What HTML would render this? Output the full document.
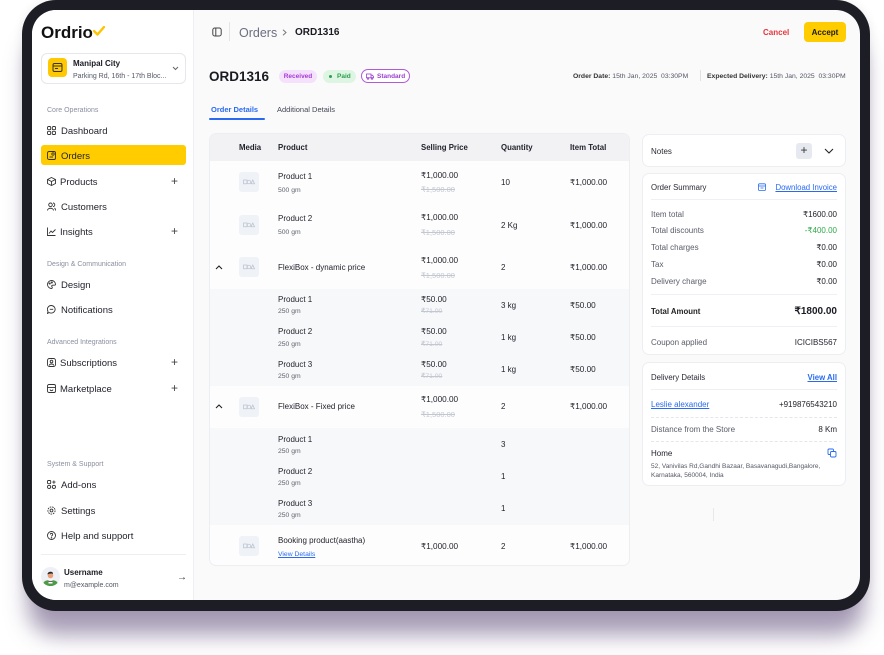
<!DOCTYPE html>
<html><head><meta charset="utf-8">
<style>
*{margin:0;padding:0;box-sizing:border-box}
html,body{width:884px;height:655px;background:#fff;overflow:hidden;font-family:"Liberation Sans",Arial,sans-serif;color:#1c1d24}
.frame{position:absolute;left:22px;top:0;width:848px;height:611px;background:#1d1d25;border-radius:34px;box-shadow:0 30px 22px -6px rgba(80,60,110,.5),0 0 10px rgba(0,0,0,.08)}
.screen{position:absolute;left:32px;top:10px;width:828px;height:590px;border-radius:24px;overflow:hidden;background:#fafafb}
.w{position:absolute;left:-32px;top:-10px;width:884px;height:655px}
.t{position:absolute;white-space:nowrap;line-height:1;margin-top:1px}
.abs{position:absolute}
.sec{font-size:7px;color:#8b8fa0}
.nav{font-size:9.5px;color:#1f2029;margin-top:1.5px}
.ic{position:absolute;width:9px;height:9px}
.plus{position:absolute;font-size:12px;line-height:1;color:#444;font-weight:normal}
.hd{font-size:7.8px;font-weight:bold;color:#1f2029}
.nm{font-size:8px;color:#1f2028}
.sb{font-size:6.8px;color:#5f626d}
.pr{font-size:8.2px;color:#1f2028}
.st{font-size:7.5px;color:#c3c7d0;text-decoration:line-through}
.st2{font-size:6.8px;color:#c3c7d0;text-decoration:line-through}
.img{position:absolute;left:239px;width:20px;height:20px;background:#eff2f7;border-radius:3px}
.card{position:absolute;left:642px;width:204px;background:#fff;border:1px solid #eceef2;border-radius:7px}
.lb{font-size:8px;color:#5a5d68}
.vl{font-size:8px;color:#22232b;text-align:right}
.hr{position:absolute;left:651px;width:186px;height:1px;background:#eef0f3}
.dhr{position:absolute;left:651px;width:186px;height:0;border-top:1px dashed #e4e6ea}
.blue{color:#2a6af0;text-decoration:underline}
</style></head>
<body>
<div class="frame"></div>
<div class="screen"><div class="w">

<!-- SIDEBAR -->
<div class="abs" style="left:32px;top:0;width:162px;height:655px;background:#fff;border-right:1px solid #efeff3"></div>

<div class="t" style="left:41px;top:23.5px;font-size:17px;font-weight:bold;color:#111;margin-top:0">Ordrio</div>
<svg class="abs" style="left:93px;top:26px" width="12" height="10" viewBox="0 0 12 10"><polyline points="1,5 4.5,8.5 11,1" fill="none" stroke="#ffc400" stroke-width="2.4" stroke-linecap="round" stroke-linejoin="round"/></svg>

<div class="abs" style="left:41px;top:53px;width:145px;height:31px;border:1px solid #e6e7ec;border-radius:6px;background:#fff"></div>
<div class="abs" style="left:48px;top:58px;width:19px;height:19px;background:#ffc800;border-radius:4px"></div>
<svg class="abs" style="left:52px;top:62px" width="11" height="11" viewBox="0 0 11 11"><rect x="1" y="1.5" width="9" height="8" rx="1.5" fill="none" stroke="#333" stroke-width="1"/><line x1="1" y1="4" x2="10" y2="4" stroke="#333" stroke-width="1"/><line x1="3" y1="6.5" x2="6" y2="6.5" stroke="#333" stroke-width="1"/></svg>
<div class="t" style="left:73px;top:59px;font-size:8px;font-weight:bold;color:#1a1b22">Manipal City</div>
<div class="t" style="left:73px;top:71.5px;font-size:7px;color:#555865">Parking Rd, 16th - 17th Bloc...</div>
<svg class="abs" style="left:172px;top:66px" width="7" height="5" viewBox="0 0 7 5"><polyline points="1,1 3.5,3.5 6,1" fill="none" stroke="#666" stroke-width="1"/></svg>

<div class="t sec" style="left:47px;top:105.5px">Core Operations</div>

<svg class="ic" style="left:47px;top:125.5px" viewBox="0 0 9 9"><g fill="none" stroke="#333" stroke-width="0.9"><rect x=".5" y=".5" width="3.2" height="3.2" rx="1"/><rect x="5.3" y=".5" width="3.2" height="3.2" rx="1"/><rect x=".5" y="5.3" width="3.2" height="3.2" rx="1"/><rect x="5.3" y="5.3" width="3.2" height="3.2" rx="1"/></g></svg>
<div class="t nav" style="left:61px;top:125.3px">Dashboard</div>

<div class="abs" style="left:41px;top:145px;width:145px;height:20px;background:#ffcc00;border-radius:3px"></div>
<svg class="ic" style="left:47px;top:150.5px" viewBox="0 0 9 9"><g fill="none" stroke="#333" stroke-width="0.9"><rect x=".5" y=".5" width="8" height="8" rx="1.5"/><line x1="2.5" y1="6" x2="6" y2="6"/><circle cx="6" cy="3" r="1.2"/></g></svg>
<div class="t nav" style="left:61px;top:150.3px">Orders</div>

<svg class="ic" style="left:47px;top:176.5px" viewBox="0 0 9 9"><g fill="none" stroke="#333" stroke-width="0.9"><path d="M4.5 .5 L8.5 2.5 L8.5 6.5 L4.5 8.5 L.5 6.5 L.5 2.5 Z"/><path d="M.5 2.5 L4.5 4.5 L8.5 2.5 M4.5 4.5 L4.5 8.5"/></g></svg>
<div class="t nav" style="left:60px;top:176.3px">Products</div>
<div class="plus" style="left:171px;top:175px">+</div>

<svg class="ic" style="left:47px;top:201.5px" viewBox="0 0 9 9"><g fill="none" stroke="#333" stroke-width="0.9"><circle cx="3.5" cy="2.8" r="1.8"/><path d="M.5 8.5 C.5 5.5 6.5 5.5 6.5 8.5"/><path d="M6 1 A1.8 1.8 0 0 1 6 4.6 M7.5 6 C8.3 6.5 8.5 7.5 8.5 8.5"/></g></svg>
<div class="t nav" style="left:61px;top:201.3px">Customers</div>

<svg class="ic" style="left:47px;top:226.5px" viewBox="0 0 9 9"><g fill="none" stroke="#333" stroke-width="0.9"><path d="M.5 .5 V8.5 H8.5"/><path d="M2 6.5 L4 4 L5.5 5.5 L8.5 2.5"/></g></svg>
<div class="t nav" style="left:60px;top:226.3px">Insights</div>
<div class="plus" style="left:171px;top:225px">+</div>

<div class="t sec" style="left:47px;top:259.5px">Design &amp; Communication</div>

<svg class="ic" style="left:47px;top:279.5px" viewBox="0 0 9 9"><g fill="none" stroke="#333" stroke-width="0.9"><path d="M4.5 .5 A4 4 0 1 0 4.5 8.5 C5.5 8.5 5.5 7 4.8 6.5 C4.3 6 5 5 6 5.2 H7.5 C8.2 5.2 8.5 4.8 8.5 4.3 A4 4 0 0 0 4.5 .5 Z"/><circle cx="2.7" cy="3.5" r=".6"/><circle cx="4.8" cy="2.5" r=".6"/></g></svg>
<div class="t nav" style="left:61px;top:279.3px">Design</div>

<svg class="ic" style="left:47px;top:304.5px" viewBox="0 0 9 9"><g fill="none" stroke="#333" stroke-width="0.9"><path d="M4.5 .5 A4 3.8 0 1 1 2 7.5 L.5 8.5 L1 6.3 A4 3.8 0 0 1 4.5 .5 Z"/><line x1="2.8" y1="4.3" x2="6.2" y2="4.3"/></g></svg>
<div class="t nav" style="left:61px;top:304.3px">Notifications</div>

<div class="t sec" style="left:47px;top:337.5px">Advanced Integrations</div>

<svg class="ic" style="left:47px;top:357.5px" viewBox="0 0 9 9"><g fill="none" stroke="#333" stroke-width="0.9"><rect x=".5" y=".5" width="8" height="8" rx="2"/><circle cx="4.5" cy="3.5" r="1.3"/><path d="M2.3 7.5 C2.5 5.5 6.5 5.5 6.7 7.5"/></g></svg>
<div class="t nav" style="left:60px;top:357.3px">Subscriptions</div>
<div class="plus" style="left:171px;top:356px">+</div>

<svg class="ic" style="left:47px;top:383.5px" viewBox="0 0 9 9"><g fill="none" stroke="#333" stroke-width="0.9"><rect x=".5" y=".5" width="8" height="8" rx="1.5"/><line x1=".5" y1="3.5" x2="8.5" y2="3.5"/><path d="M3 5.5 C3.5 7 5.5 7 6 5.5"/></g></svg>
<div class="t nav" style="left:60px;top:383.3px">Marketplace</div>
<div class="plus" style="left:171px;top:382px">+</div>

<div class="t sec" style="left:47px;top:459.5px">System &amp; Support</div>

<svg class="ic" style="left:47px;top:479.5px" viewBox="0 0 9 9"><g fill="none" stroke="#333" stroke-width="0.9"><rect x=".5" y=".5" width="3.2" height="3.2" rx=".8"/><circle cx="2.1" cy="6.9" r="1.6"/><circle cx="6.9" cy="6.9" r="1.6"/><path d="M6.9 .5 V3.7 M5.3 2.1 H8.5"/></g></svg>
<div class="t nav" style="left:61px;top:479.3px">Add-ons</div>

<svg class="ic" style="left:47px;top:505.5px" viewBox="0 0 9 9"><g fill="none" stroke="#333" stroke-width="0.9"><circle cx="4.5" cy="4.5" r="3.6" stroke-dasharray="1.6 .9"/><circle cx="4.5" cy="4.5" r="1.4"/></g></svg>
<div class="t nav" style="left:61px;top:505.3px">Settings</div>

<svg class="ic" style="left:47px;top:530.5px" viewBox="0 0 9 9"><g fill="none" stroke="#333" stroke-width="0.9"><circle cx="4.5" cy="4.5" r="4"/><path d="M3.3 3.5 C3.3 2 5.7 2 5.7 3.5 C5.7 4.5 4.5 4.5 4.5 5.5"/><circle cx="4.5" cy="6.8" r=".3"/></g></svg>
<div class="t nav" style="left:61px;top:530.3px">Help and support</div>

<div class="abs" style="left:41px;top:554px;width:145px;height:1px;background:#eeeef2"></div>

<svg class="abs" style="left:41px;top:567px" width="19" height="19" viewBox="0 0 19 19"><circle cx="9.5" cy="9.5" r="9.5" fill="#eef0f6"/><path d="M2.5 16 C3 12 16 12 16.5 16 A9.5 9.5 0 0 1 2.5 16 Z" fill="#4e9a48"/><rect x="7.5" y="12.5" width="4" height="4" fill="#fff"/><line x1="7.5" y1="14.3" x2="11.5" y2="14.3" stroke="#333" stroke-width=".8"/><circle cx="9.5" cy="8.5" r="2.8" fill="#e9a07a"/><path d="M6.5 7.5 C6.5 4 12.5 4 12 7 C11 6 8 6.5 6.5 7.5 Z" fill="#222"/></svg>
<div class="t" style="left:64px;top:568px;font-size:8px;font-weight:bold;color:#1a1b22">Username</div>
<div class="t" style="left:64px;top:580.5px;font-size:7px;color:#555865">m@example.com</div>
<div class="t" style="left:177px;top:572px;font-size:10px;color:#333">→</div>

<!-- HEADER -->
<svg class="abs" style="left:212px;top:27px" width="10" height="10" viewBox="0 0 10 10"><rect x=".8" y="1" width="8.4" height="8" rx="2" fill="none" stroke="#444" stroke-width="1"/><line x1="3.8" y1="1" x2="3.8" y2="9" stroke="#444" stroke-width="1"/></svg>
<div class="abs" style="left:229px;top:22px;width:1px;height:19px;background:#e3e3e8"></div>
<div class="t" style="left:239px;top:25.8px;font-size:12.5px;color:#6b6f80">Orders</div>
<svg class="abs" style="left:282px;top:28.5px" width="5" height="7" viewBox="0 0 5 7"><polyline points="1,.8 4,3.5 1,6.2" fill="none" stroke="#777" stroke-width="1"/></svg>
<div class="t" style="left:295px;top:27px;font-size:10px;font-weight:bold;color:#1a1b22">ORD1316</div>

<div class="t" style="left:763px;top:28px;font-size:8px;font-weight:bold;color:#e5343a">Cancel</div>
<div class="abs" style="left:804px;top:22px;width:42px;height:20px;background:#ffcc00;border-radius:4px;font-size:8px;font-weight:bold;color:#1a1a1a;text-align:center;line-height:21px">Accept</div>

<div class="t" style="left:209px;top:69.2px;font-size:13.5px;font-weight:bold;color:#1a1b22">ORD1316</div>
<div class="abs" style="left:279px;top:69.5px;width:38px;height:13px;background:#f5e1fb;border-radius:7px;font-size:6.5px;font-weight:bold;color:#a33bd6;text-align:center;line-height:14px">Received</div>
<div class="abs" style="left:323px;top:69.5px;width:33px;height:13px;background:#def5e3;border-radius:7px;font-size:6.5px;font-weight:bold;color:#2e9e4f;line-height:14px;padding-left:14px">Paid</div>
<div class="abs" style="left:328.5px;top:74.5px;width:3px;height:3px;background:#2e9e4f;border-radius:50%"></div>
<div class="abs" style="left:361px;top:69px;width:49px;height:14px;background:#fff;border:1px solid #b05ad8;border-radius:7px;font-size:6.5px;font-weight:bold;color:#9b3fd1;line-height:13px;padding-left:15px">Standard</div>
<svg class="abs" style="left:366px;top:72.5px" width="8" height="7" viewBox="0 0 8 7"><g fill="none" stroke="#9b3fd1" stroke-width=".8"><rect x=".5" y="1" width="4.5" height="3.8"/><path d="M5 2.2 H6.5 L7.5 3.5 V4.8 H5"/><circle cx="2" cy="5.5" r=".8"/><circle cx="6" cy="5.5" r=".8"/></g></svg>

<div class="t" style="left:573px;top:72.5px;font-size:6.8px;color:#555865"><b style="color:#333">Order Date:</b> 15th Jan, 2025&nbsp; 03:30PM</div>
<div class="abs" style="left:700px;top:70px;width:1px;height:11px;background:#e0e0e5"></div>
<div class="t" style="left:707px;top:72.5px;font-size:6.8px;color:#555865"><b style="color:#333">Expected Delivery:</b> 15th Jan, 2025&nbsp; 03:30PM</div>

<div class="t" style="left:211px;top:105.3px;font-size:7.5px;color:#2a6af0;font-weight:bold">Order Details</div>
<div class="abs" style="left:209px;top:117.5px;width:56px;height:2px;background:#2a6af0;border-radius:1px"></div>
<div class="t" style="left:277px;top:105.3px;font-size:7.5px;color:#444653">Additional Details</div>

<!-- TABLE -->
<div class="abs" style="left:209px;top:133px;width:421px;height:433px;background:#fdfdfe;border:1px solid #eceef2;border-radius:7px;overflow:hidden">
  <div class="abs" style="left:0;top:0;width:421px;height:27px;background:#f2f2f4"></div>
  <div class="abs" style="left:0;top:155px;width:421px;height:97px;background:#f7f8fa"></div>
  <div class="abs" style="left:0;top:294px;width:421px;height:97px;background:#f7f8fa"></div>
</div>
<div class="t hd" style="left:239px;top:143.1px">Media</div>
<div class="t hd" style="left:278px;top:143.1px">Product</div>
<div class="t hd" style="left:421px;top:143.1px">Selling Price</div>
<div class="t hd" style="left:501px;top:143.1px">Quantity</div>
<div class="t hd" style="left:570px;top:143.1px">Item Total</div>

<!-- image placeholders -->
<div class="img" style="top:172px"></div>
<div class="img" style="top:215px"></div>
<div class="img" style="top:257px"></div>
<div class="img" style="top:397px"></div>
<div class="img" style="top:536px"></div>
<svg class="abs" style="left:243px;top:179px" width="12" height="6" viewBox="0 0 12 6"><g fill="none" stroke="#b8bfcc" stroke-width=".7"><rect x=".5" y="1" width="3.5" height="3.8"/><circle cx="6" cy="3" r="1.8"/><path d="M9.8 1 L11.5 4.8 H8 Z"/></g></svg>
<svg class="abs" style="left:243px;top:222px" width="12" height="6" viewBox="0 0 12 6"><g fill="none" stroke="#b8bfcc" stroke-width=".7"><rect x=".5" y="1" width="3.5" height="3.8"/><circle cx="6" cy="3" r="1.8"/><path d="M9.8 1 L11.5 4.8 H8 Z"/></g></svg>
<svg class="abs" style="left:243px;top:264px" width="12" height="6" viewBox="0 0 12 6"><g fill="none" stroke="#b8bfcc" stroke-width=".7"><rect x=".5" y="1" width="3.5" height="3.8"/><circle cx="6" cy="3" r="1.8"/><path d="M9.8 1 L11.5 4.8 H8 Z"/></g></svg>
<svg class="abs" style="left:243px;top:404px" width="12" height="6" viewBox="0 0 12 6"><g fill="none" stroke="#b8bfcc" stroke-width=".7"><rect x=".5" y="1" width="3.5" height="3.8"/><circle cx="6" cy="3" r="1.8"/><path d="M9.8 1 L11.5 4.8 H8 Z"/></g></svg>
<svg class="abs" style="left:243px;top:543px" width="12" height="6" viewBox="0 0 12 6"><g fill="none" stroke="#b8bfcc" stroke-width=".7"><rect x=".5" y="1" width="3.5" height="3.8"/><circle cx="6" cy="3" r="1.8"/><path d="M9.8 1 L11.5 4.8 H8 Z"/></g></svg>

<svg class="abs" style="left:215px;top:264.5px" width="8" height="5" viewBox="0 0 8 5"><polyline points="1,4 4,1 7,4" fill="none" stroke="#222" stroke-width="1.1"/></svg>
<svg class="abs" style="left:215px;top:403.5px" width="8" height="5" viewBox="0 0 8 5"><polyline points="1,4 4,1 7,4" fill="none" stroke="#222" stroke-width="1.1"/></svg>

<!-- row 1 -->
<div class="t nm" style="left:278px;top:172px">Product 1</div>
<div class="t sb" style="left:278px;top:186.6px">500 gm</div>
<div class="t pr" style="left:421px;top:171px">₹1,000.00</div>
<div class="t st" style="left:421px;top:185.3px">₹1,500.00</div>
<div class="t nm" style="left:501px;top:178px">10</div>
<div class="t pr" style="left:570px;top:178px">₹1,000.00</div>
<!-- row 2 -->
<div class="t nm" style="left:278px;top:214px">Product 2</div>
<div class="t sb" style="left:278px;top:228.6px">500 gm</div>
<div class="t pr" style="left:421px;top:213px">₹1,000.00</div>
<div class="t st" style="left:421px;top:228.3px">₹1,500.00</div>
<div class="t nm" style="left:501px;top:221px">2 Kg</div>
<div class="t pr" style="left:570px;top:221px">₹1,000.00</div>
<!-- row 3 -->
<div class="t nm" style="left:278px;top:263px">FlexiBox - dynamic price</div>
<div class="t pr" style="left:421px;top:256px">₹1,000.00</div>
<div class="t st" style="left:421px;top:271.3px">₹1,500.00</div>
<div class="t nm" style="left:501px;top:263px">2</div>
<div class="t pr" style="left:570px;top:263px">₹1,000.00</div>
<!-- sub rows -->
<div class="t nm" style="left:278px;top:295px">Product 1</div>
<div class="t sb" style="left:278px;top:307.6px">250 gm</div>
<div class="t pr" style="left:421px;top:295px">₹50.00</div>
<div class="t st2" style="left:421px;top:307.6px">₹71.00</div>
<div class="t nm" style="left:501px;top:301px">3 kg</div>
<div class="t pr" style="left:570px;top:301px">₹50.00</div>

<div class="t nm" style="left:278px;top:327px">Product 2</div>
<div class="t sb" style="left:278px;top:340.6px">250 gm</div>
<div class="t pr" style="left:421px;top:327px">₹50.00</div>
<div class="t st2" style="left:421px;top:340.6px">₹71.00</div>
<div class="t nm" style="left:501px;top:333px">1 kg</div>
<div class="t pr" style="left:570px;top:333px">₹50.00</div>

<div class="t nm" style="left:278px;top:360px">Product 3</div>
<div class="t sb" style="left:278px;top:372.6px">250 gm</div>
<div class="t pr" style="left:421px;top:360px">₹50.00</div>
<div class="t st2" style="left:421px;top:372.6px">₹71.00</div>
<div class="t nm" style="left:501px;top:365px">1 kg</div>
<div class="t pr" style="left:570px;top:365px">₹50.00</div>
<!-- row fixed -->
<div class="t nm" style="left:278px;top:402px">FlexiBox - Fixed price</div>
<div class="t pr" style="left:421px;top:395px">₹1,000.00</div>
<div class="t st" style="left:421px;top:410.3px">₹1,500.00</div>
<div class="t nm" style="left:501px;top:402px">2</div>
<div class="t pr" style="left:570px;top:402px">₹1,000.00</div>

<div class="t nm" style="left:278px;top:435px">Product 1</div>
<div class="t sb" style="left:278px;top:447.6px">250 gm</div>
<div class="t nm" style="left:501px;top:440px">3</div>
<div class="t nm" style="left:278px;top:467px">Product 2</div>
<div class="t sb" style="left:278px;top:479.6px">250 gm</div>
<div class="t nm" style="left:501px;top:472px">1</div>
<div class="t nm" style="left:278px;top:499px">Product 3</div>
<div class="t sb" style="left:278px;top:511.6px">250 gm</div>
<div class="t nm" style="left:501px;top:504px">1</div>
<!-- booking -->
<div class="t nm" style="left:278px;top:536px">Booking product(aastha)</div>
<div class="t sb blue" style="left:278px;top:550.6px">View Details</div>
<div class="t pr" style="left:421px;top:542px">₹1,000.00</div>
<div class="t nm" style="left:501px;top:542px">2</div>
<div class="t pr" style="left:570px;top:542px">₹1,000.00</div>

<!-- RIGHT PANEL -->
<div class="card" style="top:134px;height:33px"></div>
<div class="t" style="left:651px;top:147px;font-size:8px;color:#2a2b33">Notes</div>
<div class="abs" style="left:796px;top:143px;width:16px;height:16px;background:#e6eaf0;border-radius:3px;font-size:12px;line-height:15px;text-align:center;color:#333">+</div>
<svg class="abs" style="left:824px;top:147.5px" width="10" height="6" viewBox="0 0 10 6"><polyline points="1,1 5,5 9,1" fill="none" stroke="#222" stroke-width="1.1"/></svg>

<div class="card" style="top:173px;height:182px"></div>
<div class="t" style="left:651px;top:183px;font-size:7.8px;color:#2a2b33">Order Summary</div>
<svg class="abs" style="left:758px;top:183px" width="8" height="8" viewBox="0 0 8 8"><g fill="none" stroke="#2a6af0" stroke-width=".8"><rect x=".5" y=".8" width="7" height="6.7" rx="1"/><line x1=".5" y1="3" x2="7.5" y2="3"/><line x1="2.5" y1="5" x2="5.5" y2="5"/></g></svg>
<div class="t blue" style="right:47px;top:183px;font-size:7.8px">Download Invoice</div>
<div class="hr" style="top:199px"></div>
<div class="t lb" style="left:651px;top:210px">Item total</div>
<div class="t vl" style="right:47px;top:210px">₹1600.00</div>
<div class="t lb" style="left:651px;top:226px">Total discounts</div>
<div class="t vl" style="right:47px;top:226px;color:#2eaa4a">-₹400.00</div>
<div class="t lb" style="left:651px;top:243px">Total charges</div>
<div class="t vl" style="right:47px;top:243px">₹0.00</div>
<div class="t lb" style="left:651px;top:260px">Tax</div>
<div class="t vl" style="right:47px;top:260px">₹0.00</div>
<div class="t lb" style="left:651px;top:277px">Delivery charge</div>
<div class="t vl" style="right:47px;top:277px">₹0.00</div>
<div class="hr" style="top:294px"></div>
<div class="t" style="left:651px;top:307px;font-size:7.8px;font-weight:bold;color:#222">Total Amount</div>
<div class="t" style="right:47px;top:306px;font-size:10px;font-weight:bold;color:#1a1b22">₹1800.00</div>
<div class="hr" style="top:326px"></div>
<div class="t lb" style="left:651px;top:338px">Coupon applied</div>
<div class="t vl" style="right:47px;top:338px;color:#1f2029">ICICIBS567</div>

<div class="card" style="top:362px;height:124px"></div>
<div class="t" style="left:651px;top:373px;font-size:7.8px;color:#2a2b33">Delivery Details</div>
<div class="t blue" style="right:47px;top:373px;font-size:7.8px;font-weight:bold">View All</div>
<div class="hr" style="top:389px"></div>
<div class="t blue" style="left:651px;top:400px;font-size:8px">Leslie alexander</div>
<div class="t vl" style="right:47px;top:400px">+919876543210</div>
<div class="dhr" style="top:417px"></div>
<div class="t lb" style="left:651px;top:425px">Distance from the Store</div>
<div class="t vl" style="right:47px;top:425px">8 Km</div>
<div class="dhr" style="top:441px"></div>
<div class="t" style="left:651px;top:449px;font-size:8px;color:#1f2029">Home</div>
<svg class="abs" style="left:827px;top:447.5px" width="10" height="10" viewBox="0 0 10 10"><g fill="none" stroke="#2a6af0" stroke-width=".9"><rect x="3.5" y="3.5" width="5.5" height="5.5" rx="1.2"/><path d="M6.5 3.5 V2 C6.5 1.3 6 1 5.5 1 H2 C1.3 1 1 1.3 1 2 V5.5 C1 6.2 1.3 6.5 2 6.5 H3.5"/></g></svg>
<div class="t" style="left:651px;top:463px;font-size:6.5px;color:#555865">52, Vanivilas Rd,Gandhi Bazaar, Basavanagudi,Bangalore,</div>
<div class="t" style="left:651px;top:471.5px;font-size:6.5px;color:#555865">Karnataka, 560004, India</div>

<div class="abs" style="left:713px;top:508px;width:1px;height:13px;background:#e8e8ec"></div>

</div></div>
</body></html>
